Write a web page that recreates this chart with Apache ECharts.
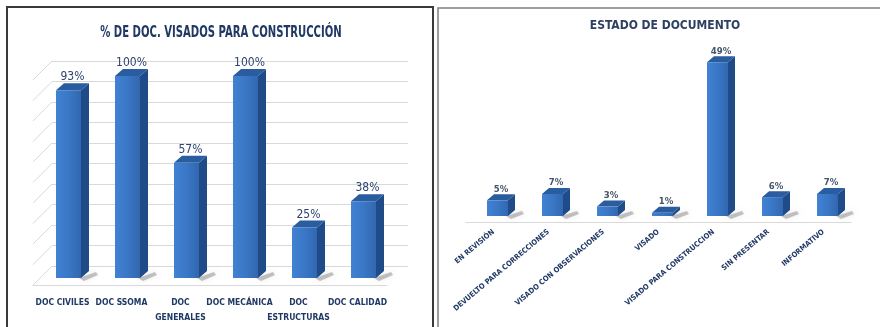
<!DOCTYPE html>
<html><head><meta charset="utf-8">
<script src="https://cdn.jsdelivr.net/npm/echarts@6/dist/echarts.min.js"></script>
<style>html,body{margin:0;padding:0;background:#fff}#c{width:880px;height:327px}</style>
</head><body><div id="c"></div>
<script>
const leftTitle = '% DE DOC. VISADOS PARA CONSTRUCCIÓN';
const leftCategories = ['DOC CIVILES','DOC SSOMA','DOC\nGENERALES','DOC MECÁNICA','DOC\nESTRUCTURAS','DOC CALIDAD'];
const leftValues = [93,100,57,100,25,38];
const leftGridTicks = [0,10,20,30,40,50,60,70,80,90,100];
const rightTitle = 'ESTADO DE DOCUMENTO';
const rightCategories = ['EN REVISIÓN','DEVUELTO PARA CORRECCIONES','VISADO CON OBSERVACIONES','VISADO','VISADO PARA CONSTRUCCION','SIN PRESENTAR','INFORMATIVO'];
const rightValues = [5,7,3,1,49,6,7];

const FONT = "'Liberation Sans Narrow','DejaVu Sans Condensed',sans-serif";
const NAVY = '#1F3864';

function bar3d(cfg){
  return function(params, api){
    const i = api.value(0), v = api.value(1);
    const p0 = api.coord([i,0]), p1 = api.coord([i,v]);
    const bw = cfg.bw, d = cfg.d, dd = cfg.dd;
    const x = p0[0] + cfg.dx - bw/2;
    const yb = p0[1] + cfg.dy, yt = p1[1] + cfg.dy;
    const children = [];
    children.push({type:'polygon', shape:{points:[[x+bw-2,yb],[x+bw+d+7,yb-dd+1],[x+bw+d+9,yb-dd+4],[x+bw+3,yb+3]]},
      style:{fill:'rgba(0,0,0,0.22)', shadowBlur:5, shadowColor:'rgba(0,0,0,0.35)'}});
    children.push({type:'polygon', shape:{points:[[x+bw,yt],[x+bw+d,yt-dd],[x+bw+d,yb-dd],[x+bw,yb]]}, style:{fill:'#1F4C88'}});
    children.push({type:'polygon', shape:{points:[[x,yt],[x+d,yt-dd],[x+bw+d,yt-dd],[x+bw,yt]]}, style:{fill:'#2A5CA0'}});
    children.push({type:'rect', shape:{x:x,y:yt,width:bw,height:Math.max(yb-yt,0)},
      style:{fill:new echarts.graphic.LinearGradient(0,0,1,0,[{offset:0,color:'#4182D2'},{offset:0.5,color:'#3A77C6'},{offset:1,color:'#3267B0'}])}});
    children.push({type:'text', style:{text: v+'%', x: x+(bw+d)/2, y: yt-dd, align:'center', verticalAlign:'bottom',
      fontFamily: FONT, fontSize: cfg.fs, fontWeight: cfg.fw, fill: cfg.labelColor}});
    return {type:'group', children};
  };
}

const chart = echarts.init(document.getElementById('c'));
chart.setOption({
  animation:false,
  backgroundColor:'#fff',
  grid:[
    {left:52, right:472, top:61, bottom:61},
    {left:33, right:493, top:83, bottom:42},
    {left:466, right:29, top:65, bottom:105}
  ],
  xAxis:[
    {gridIndex:0, type:'value', min:0, max:1, show:false},
    {gridIndex:1, type:'category', data:leftCategories, axisLine:{lineStyle:{color:'#D9D9D9'}}, axisTick:{show:false},
      axisLabel:{color:NAVY, fontFamily:FONT, fontSize:8.5, fontWeight:'bold', margin:10, lineHeight:15, interval:0}},
    {gridIndex:2, type:'category', data:rightCategories, axisLine:{lineStyle:{color:'#D9D9D9'}}, axisTick:{show:false},
      axisLabel:{color:NAVY, fontFamily:FONT, fontSize:7.5, fontWeight:'bold', margin:9, rotate:40, interval:0}}
  ],
  yAxis:[
    {gridIndex:0, type:'value', min:0, max:100, interval:10, axisLabel:{show:false}, axisLine:{show:false}, axisTick:{show:false},
      splitLine:{lineStyle:{color:'#D9D9D9'}}},
    {gridIndex:1, type:'value', min:0, max:100, show:false},
    {gridIndex:2, type:'value', min:0, max:50, show:false}
  ],
  graphic:[
    {type:'rect', shape:{x:7,y:7,width:426,height:340}, style:{fill:'none', stroke:'#3A3A3A', lineWidth:2}, z:-1},
    {type:'rect', shape:{x:438,y:8,width:450,height:340}, style:{fill:'none', stroke:'#808080', lineWidth:1.5}, z:-1},
    {type:'text', x:221, y:33, scaleX:0.7, style:{text:leftTitle, align:'center', verticalAlign:'middle', fontFamily:FONT, fontSize:16, fontWeight:'bold', fill:NAVY}},
    {type:'text', x:665, y:26, style:{text:rightTitle, align:'center', verticalAlign:'middle', fontFamily:FONT, fontSize:12, fontWeight:'bold', fill:'#2E4060'}}
  ],
  series:[
    {type:'custom', xAxisIndex:0, yAxisIndex:0, silent:true, data:leftGridTicks.map(v=>[0,v]),
      renderItem:function(params, api){
        const p = api.coord([0, api.value(1)]);
        return {type:'line', shape:{x1:p[0], y1:p[1], x2:p[0]-19, y2:p[1]+19}, style:{stroke:'#D9D9D9', lineWidth:1}};
      }},
    {type:'custom', xAxisIndex:1, yAxisIndex:1, silent:true, data:leftValues.map((v,i)=>[i,v]),
      renderItem:bar3d({bw:25, d:8, dd:7, dx:6, dy:-7, fs:12, fw:'normal', labelColor:'#2F4370'})},
    {type:'custom', xAxisIndex:2, yAxisIndex:2, silent:true, data:rightValues.map((v,i)=>[i,v]),
      renderItem:bar3d({bw:21, d:7, dd:6, dx:4, dy:-6, fs:9.5, fw:'bold', labelColor:'#44546A'})}
  ]
});
</script></body></html>
